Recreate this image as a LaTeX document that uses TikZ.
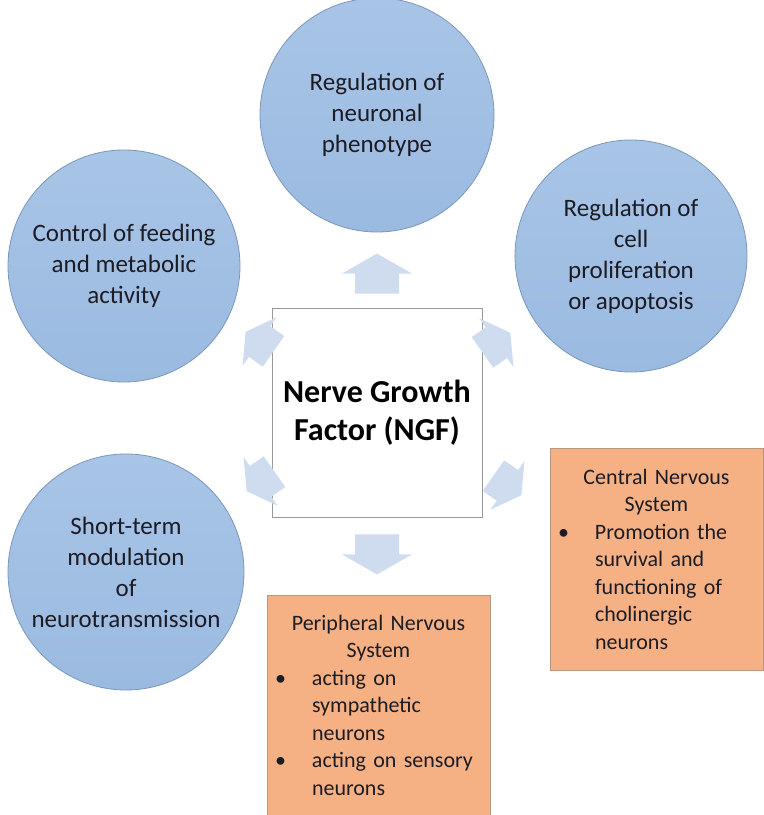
\documentclass[tikz,border=0pt]{standalone}
\usepackage{fontspec}
\setmainfont{Carlito}
\usetikzlibrary{calc}

\definecolor{circtop}{RGB}{168,197,231}
\definecolor{circbot}{RGB}{155,186,224}
\definecolor{circline}{RGB}{122,150,188}
\definecolor{boxfill}{RGB}{245,177,132}
\definecolor{boxline}{RGB}{185,150,125}
\definecolor{arrfill}{RGB}{207,220,240}
\definecolor{txt}{RGB}{28,28,36}

\newcommand{\bulitem}{\makebox[37pt][l]{\textbullet}}
\newcommand{\bulcont}{\hspace*{37pt}}
\newcommand{\headline}[1]{\makebox[\hsize][c]{#1}}

\tikzset{
  topic/.style={circle, draw=circline, line width=0.8pt, top color=circtop,
    bottom color=circbot, minimum size=234pt, inner sep=0pt, align=center,
    text=txt, font=\fontsize{25}{31}\selectfont},
  factor/.style={draw=black!40, fill=white, line width=0.8pt, minimum width=210pt,
    minimum height=209pt, align=center, font=\bfseries\fontsize{32}{38}\selectfont},
  system/.style={draw=boxline, fill=boxfill, line width=0.6pt, inner sep=8pt,
    align=left, text=txt, font=\fontsize{22}{27.5}\selectfont},
  pics/fatarrow/.style={code={
    \fill[arrfill] (20,0) -- (0,35) -- (0,22) -- (-20,22) -- (-20,-22)
      -- (0,-22) -- (0,-35) -- cycle;
  }}
}

\begin{document}
\begin{tikzpicture}[x=1pt, y=1pt]
  \useasboundingbox (0,0) rectangle (764,815);

  \node[topic] (phenotype) at (377,700) {Regulation of\\neuronal\\phenotype};
  \node[topic, minimum size=232pt] (feeding) at (124,549) {Control of feeding\\and metabolic\\activity};
  \node[topic, minimum size=232pt] (prolif) at (631,559) {Regulation of\\cell\\proliferation\\or apoptosis};
  \node[topic, minimum size=236pt] (shortterm) at (126,243) {Short-term\\modulation\\of\\neurotransmission};

  \node[factor] (ngf) at (377,402.5) {Nerve Growth\\Factor (NGF)};

  \node[system, text width=197pt, minimum height=222pt] (cns) at (656.5,256)
    {\headline{Central Nervous}\\\headline{System}\\
     \bulitem Promotion the\\\bulcont survival and\\\bulcont functioning of\\
     \bulcont cholinergic\\\bulcont neurons};
  \node[system, text width=207pt, minimum height=220pt] (pns) at (378.5,110)
    {\headline{Peripheral Nervous}\\\headline{System}\\
     \bulitem acting on\\\bulcont sympathetic\\\bulcont neurons\\
     \bulitem acting on sensory\\\bulcont neurons};

  \pic[rotate=90] at ($(ngf.north)+(0,34)$) {fatarrow};
  \pic[rotate=-90] at ($(ngf.south)+(0,-37)$) {fatarrow};
  \pic[rotate=145, scale=.85] at ($(ngf.north west)+(-12,-34)$) {fatarrow};
  \pic[rotate=35, scale=.85] at ($(ngf.north east)+(14,-35)$) {fatarrow};
  \pic[rotate=215, scale=.85] at ($(ngf.south west)+(-11,36)$) {fatarrow};
  \pic[rotate=-35, scale=.85] at ($(ngf.south east)+(25,32)$) {fatarrow};
\end{tikzpicture}
\end{document}
